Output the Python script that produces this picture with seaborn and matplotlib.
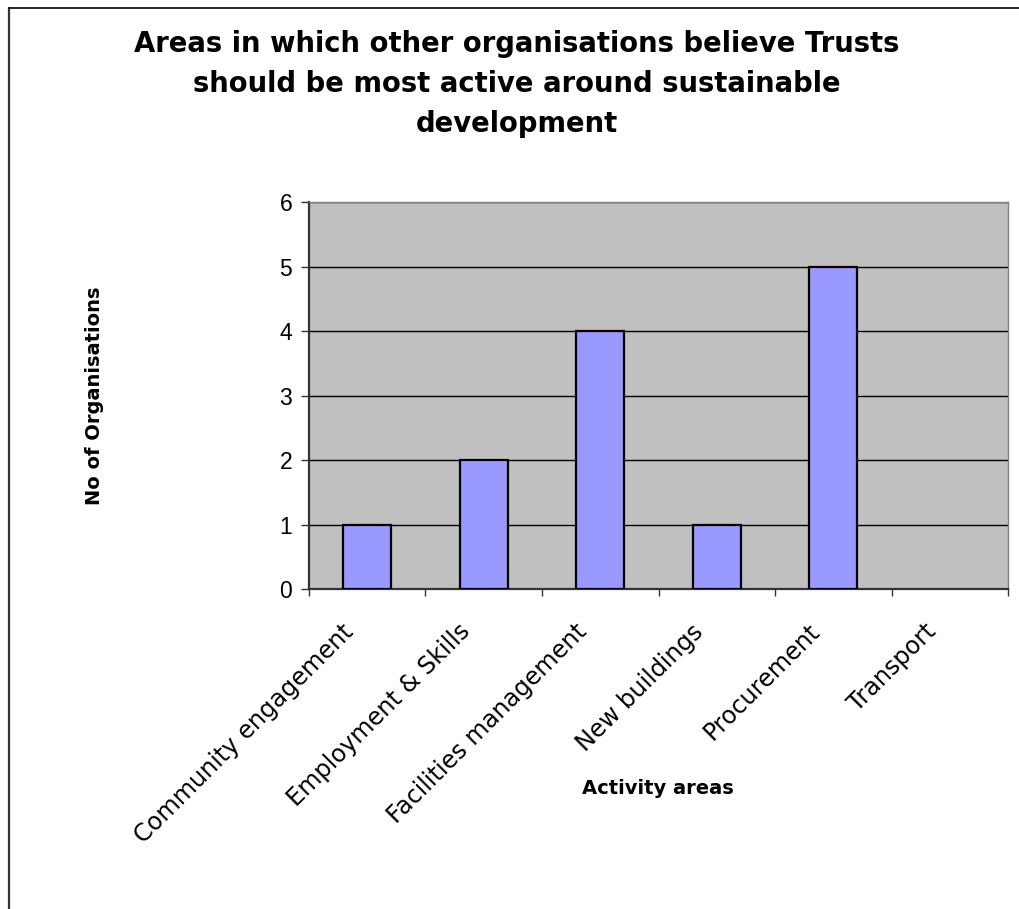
import matplotlib
matplotlib.use("Agg")
import matplotlib.pyplot as plt
import matplotlib.transforms as mtransforms
from matplotlib.lines import Line2D
import seaborn as sns
import pandas as pd

categories = ["Community engagement", "Employment & Skills", "Facilities management",
              "New buildings", "Procurement", "Transport"]
counts = [1, 2, 4, 1, 5, 0]
y_ticks = [0, 1, 2, 3, 4, 5, 6]

title = "Areas in which other organisations believe Trusts\nshould be most active around sustainable\ndevelopment"
x_label = "Activity areas"
y_label = "No of Organisations"

df = pd.DataFrame({"area": categories, "count": counts})

sns.set_theme(style="white")
plt.rcParams["font.family"] = ["DejaVu Sans"]
plt.rcParams["text.color"] = "black"
plt.rcParams["xtick.color"] = "black"
plt.rcParams["ytick.color"] = "black"
plt.rcParams["axes.labelcolor"] = "black"

W, H = 1020, 909
fig = plt.figure(figsize=(W / 100, H / 100), dpi=100)
fig.patch.set_facecolor("white")

ax = fig.add_axes([309 / W, 1 - 589 / H, 699 / W, 387 / H])
ax.set_facecolor("#C0C0C0")

sns.barplot(data=df, x="area", y="count", order=categories, color="#9999FF",
            width=0.41, edgecolor="black", linewidth=1.6, saturation=1, ax=ax, zorder=3)
# empty categories get no outline
for patch in ax.patches:
    if patch.get_height() == 0:
        patch.set_linewidth(0)

ax.set_xlim(-0.5, len(categories) - 0.5)
ax.set_ylim(y_ticks[0], y_ticks[-1])
ax.set_yticks(y_ticks)
ax.set_yticklabels([str(v) for v in y_ticks])
for lbl in ax.get_yticklabels():
    lbl.set_fontfamily("Liberation Sans")
    lbl.set_fontsize(16.5)
    lbl.set_color("black")
ax.yaxis.grid(True, color="black", linewidth=1.0)
ax.set_axisbelow(True)
ax.tick_params(axis="y", direction="out", length=6, width=1, color="#333333", pad=6, left=True)

# category labels at bar centres, tick marks at category boundaries
ax.set_xticks(range(len(categories)))
ax.set_xticklabels(categories, rotation=45, ha="right", va="top",
                   rotation_mode="anchor", fontsize=17.3, color="black")
ax.tick_params(axis="x", which="major", length=0, pad=22)
ax.set_xticks([i - 0.5 for i in range(len(categories) + 1)], minor=True)
ax.tick_params(axis="x", which="minor", direction="out", length=5, width=1,
               color="#333333", bottom=True)
shift = mtransforms.ScaledTranslation(-26 / 100, 0, fig.dpi_scale_trans)
for lbl in ax.get_xticklabels():
    lbl.set_transform(lbl.get_transform() + shift)

for side in ["top", "right"]:
    ax.spines[side].set_color("#808080")
    ax.spines[side].set_linewidth(1)
    ax.spines[side].set_visible(True)
for side in ["left", "bottom"]:
    ax.spines[side].set_color("#333333")
    ax.spines[side].set_linewidth(1.6)
    ax.spines[side].set_visible(True)

ax.set_xlabel("")
ax.set_ylabel("")

fig.text(517 / W, 1 - 84 / H, title, ha="center", va="center", fontsize=19.8,
         fontweight="bold", linespacing=1.55, color="black")
fig.text(94 / W, 1 - 396 / H, y_label, rotation=90, ha="center", va="center",
         fontsize=14, fontweight="bold", color="black")
fig.text(658 / W, 1 - 788 / H, x_label, ha="center", va="center",
         fontsize=14, fontweight="bold", color="black")

# chart frame along the top and left edges
fig.add_artist(Line2D([9 / W, 9 / W], [0, 1 - 8 / H], transform=fig.transFigure,
                      color="#333333", linewidth=1.6))
fig.add_artist(Line2D([9 / W, 1], [1 - 8 / H, 1 - 8 / H], transform=fig.transFigure,
                      color="black", linewidth=1.2))

fig.savefig("out.png", dpi=100, facecolor="white")
